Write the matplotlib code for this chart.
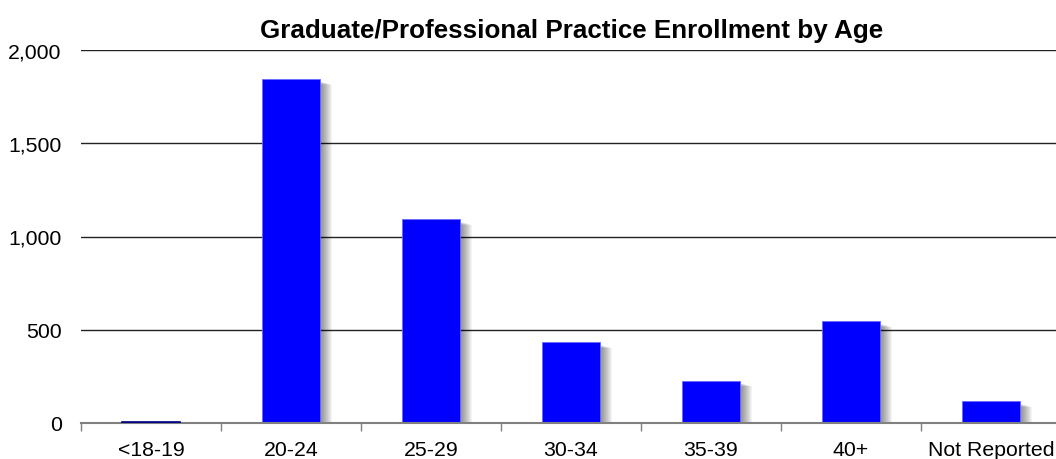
import matplotlib
matplotlib.use("Agg")
import matplotlib.pyplot as plt
import matplotlib.patheffects as pe
from matplotlib.ticker import FuncFormatter, FixedLocator
import numpy as np

categories = ["<18-19", "20-24", "25-29", "30-34", "35-39", "40+", "Not Reported"]
enrollment = [3, 1844, 1092, 432, 227, 545, 116]
title = "Graduate/Professional Practice Enrollment by Age"

plt.rcParams['font.family'] = ['Liberation Sans', 'DejaVu Sans']

W, H = 1056, 460
fig = plt.figure(figsize=(W / 100, H / 100), dpi=100)
ax = fig.add_axes([81 / W, 1 - 424 / H, 980 / W, 373 / H])

x = np.arange(len(categories))
px = 0.72  # points per pixel
shadow = [pe.SimplePatchShadow(offset=(k * px, -(2 + 0.3 * k) * px), shadow_rgbFace='k', alpha=0.045)
          for k in range(1, 13)]
shadow.append(pe.Normal())
bars = ax.bar(x, enrollment, width=0.41, color='#0000FF', edgecolor='#6A6AFF',
              linewidth=0.6, zorder=5)
for b in bars:
    b.set_path_effects(shadow)
# tiny first bar drawn as a dark line over the axis
bars[0].set_edgecolor('#000080')
bars[0].set_linewidth(1.2)
bars[0].set_path_effects([pe.Normal()])
bars[0].set_zorder(8)

ax.set_xlim(-0.5, len(categories) - 0.5)
ax.set_ylim(0, 2000)
ax.set_yticks([0, 500, 1000, 1500, 2000])
ax.yaxis.set_major_formatter(FuncFormatter(lambda v, p: f"{int(v):,}"))
ax.yaxis.grid(True, color='#222222', linewidth=1.0)
ax.set_axisbelow(True)

ax.set_xticks(x)
ax.set_xticklabels(categories)
ax.xaxis.set_minor_locator(FixedLocator(np.arange(-0.5, len(categories), 1.0)))
ax.tick_params(axis='x', which='major', length=0, pad=12, labelsize=15.3)
ax.tick_params(axis='x', which='minor', length=6, width=1, color='#808080', direction='out')
ax.tick_params(axis='y', length=0, pad=14, labelsize=15.3)

for s in ['top', 'right', 'left']:
    ax.spines[s].set_visible(False)
ax.spines['bottom'].set_color('#808080')
ax.spines['bottom'].set_linewidth(1.5)
ax.spines['bottom'].set_zorder(6)

fig.text(572 / W, 1 - 31 / H, title, ha='center', va='center',
         fontsize=18.7, fontweight='bold')

fig.savefig("out.png", dpi=100)
